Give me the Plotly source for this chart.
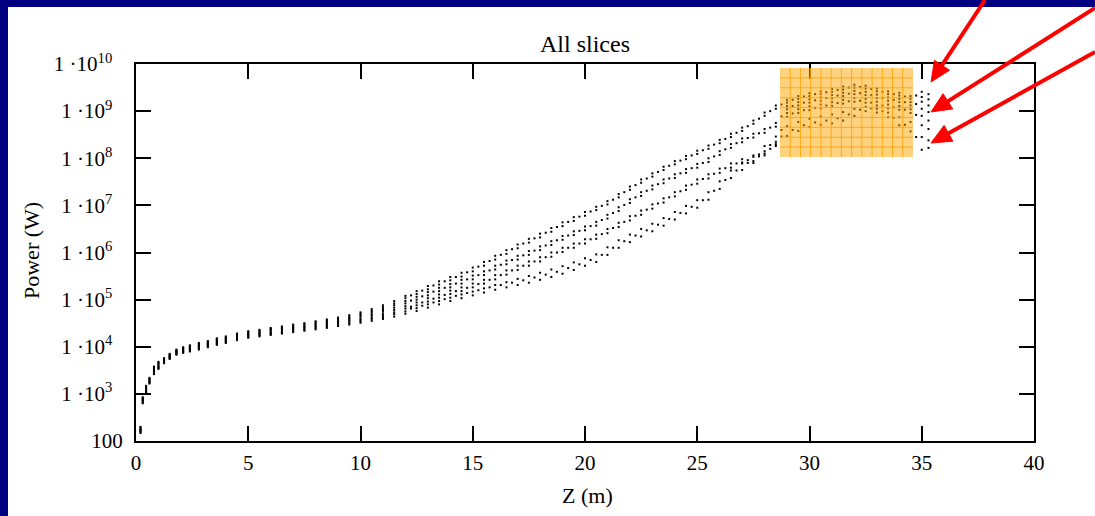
import numpy as np
import plotly.graph_objects as go

# z positions (m) at which every slice is sampled
z_m = [0.2, 0.3, 0.45, 0.6, 0.8, 1.0, 1.25, 1.5, 1.8, 2.1, 2.4, 2.8, 3.2, 3.6, 4.0, 4.5,
       5.0, 5.5, 6.0, 6.5, 7.0, 7.5, 8.0, 8.5, 9.0, 9.5, 10.0, 10.5, 11.0, 11.5, 12.0,
       12.5, 13.0, 13.5, 14.0, 14.5, 15.0, 15.5, 16.0, 16.5, 17.0, 17.5, 18.0, 18.5, 19.0,
       19.5, 20.0, 20.5, 21.0, 21.5, 22.0, 22.5, 23.0, 23.5, 24.0, 24.5, 25.0, 25.5, 26.0,
       26.5, 27.0, 27.5, 28.0, 28.5, 29.0, 29.5, 30.0, 30.5, 31.0, 31.5, 32.0, 32.5, 33.0,
       33.5, 34.0, 34.5, 35.0, 35.3]

# log10 of the slice power (W), eight slices ordered from highest to lowest
slice_1 = [2.30, 2.93, 3.17, 3.34, 3.58, 3.68, 3.76, 3.85, 3.94, 3.99, 4.03, 4.08, 4.12, 4.18, 4.22, 4.28,
           4.33, 4.36, 4.40, 4.43, 4.47, 4.50, 4.54, 4.58, 4.62, 4.67, 4.73, 4.80, 4.88, 4.97, 5.08,
           5.18, 5.29, 5.39, 5.48, 5.57, 5.68, 5.80, 5.93, 6.05, 6.17, 6.29, 6.40, 6.52, 6.64,
           6.75, 6.86, 6.97, 7.09, 7.24, 7.40, 7.55, 7.68, 7.82, 7.94, 8.05, 8.16, 8.27, 8.39,
           8.52, 8.65, 8.80, 8.97, 9.12, 9.24, 9.32, 9.38, 9.42, 9.47, 9.52, 9.56, 9.54, 9.48,
           9.42, 9.39, 9.32, 9.41, 9.36]
slice_2 = [2.28, 2.91, 3.15, 3.32, 3.56, 3.66, 3.74, 3.83, 3.92, 3.97, 4.01, 4.06, 4.10, 4.16, 4.20, 4.26,
           4.31, 4.34, 4.38, 4.41, 4.45, 4.48, 4.52, 4.55, 4.59, 4.64, 4.70, 4.76, 4.84, 4.92, 5.03,
           5.12, 5.22, 5.32, 5.41, 5.49, 5.60, 5.72, 5.85, 5.97, 6.09, 6.21, 6.32, 6.44, 6.56,
           6.67, 6.78, 6.90, 7.02, 7.17, 7.33, 7.48, 7.61, 7.75, 7.87, 7.98, 8.09, 8.20, 8.32,
           8.45, 8.58, 8.73, 8.90, 9.05, 9.18, 9.26, 9.32, 9.36, 9.41, 9.46, 9.50, 9.48, 9.42,
           9.36, 9.33, 9.26, 9.30, 9.25]
slice_3 = [2.26, 2.89, 3.13, 3.31, 3.53, 3.64, 3.73, 3.82, 3.91, 3.96, 3.99, 4.04, 4.08, 4.14, 4.18, 4.24,
           4.29, 4.32, 4.36, 4.39, 4.42, 4.45, 4.49, 4.53, 4.57, 4.61, 4.67, 4.73, 4.80, 4.88, 4.97,
           5.06, 5.16, 5.25, 5.33, 5.42, 5.51, 5.60, 5.72, 5.83, 5.93, 6.03, 6.13, 6.24, 6.35,
           6.45, 6.55, 6.65, 6.80, 6.96, 7.13, 7.28, 7.42, 7.55, 7.66, 7.77, 7.88, 8.00, 8.15,
           8.30, 8.42, 8.52, 8.62, 8.75, 9.11, 9.19, 9.25, 9.29, 9.34, 9.39, 9.43, 9.41, 9.35,
           9.29, 9.26, 9.19, 9.20, 9.12]
slice_4 = [2.24, 2.87, 3.11, 3.29, 3.51, 3.62, 3.71, 3.80, 3.89, 3.94, 3.97, 4.02, 4.06, 4.12, 4.16, 4.22,
           4.27, 4.30, 4.34, 4.37, 4.40, 4.43, 4.47, 4.50, 4.54, 4.58, 4.64, 4.69, 4.76, 4.83, 4.92,
           5.00, 5.09, 5.18, 5.26, 5.34, 5.43, 5.52, 5.64, 5.75, 5.85, 5.95, 6.05, 6.16, 6.27,
           6.37, 6.47, 6.57, 6.72, 6.88, 7.05, 7.20, 7.34, 7.47, 7.58, 7.69, 7.80, 7.92, 8.07,
           8.22, 8.34, 8.44, 8.54, 8.67, 9.04, 9.12, 9.18, 9.22, 9.27, 9.32, 9.36, 9.34, 9.28,
           9.22, 9.19, 9.12, 9.05, 8.98]
slice_5 = [2.23, 2.86, 3.08, 3.27, 3.49, 3.59, 3.70, 3.79, 3.88, 3.92, 3.96, 4.00, 4.05, 4.10, 4.14, 4.20,
           4.25, 4.28, 4.31, 4.34, 4.38, 4.41, 4.44, 4.48, 4.52, 4.56, 4.60, 4.66, 4.71, 4.78, 4.86,
           4.94, 5.03, 5.11, 5.19, 5.26, 5.34, 5.42, 5.52, 5.62, 5.72, 5.81, 5.90, 6.00, 6.10,
           6.19, 6.28, 6.38, 6.50, 6.63, 6.77, 6.89, 7.02, 7.15, 7.28, 7.42, 7.55, 7.66, 7.78,
           7.89, 7.98, 8.03, 8.15, 8.35, 8.96, 9.04, 9.10, 9.14, 9.19, 9.24, 9.28, 9.26, 9.20,
           9.14, 9.11, 9.04, 8.90, 8.80]
slice_6 = [2.21, 2.84, 3.06, 3.25, 3.47, 3.57, 3.68, 3.77, 3.86, 3.90, 3.94, 3.98, 4.03, 4.08, 4.12, 4.18,
           4.23, 4.26, 4.29, 4.32, 4.36, 4.39, 4.42, 4.45, 4.49, 4.53, 4.57, 4.62, 4.67, 4.73, 4.81,
           4.88, 4.96, 5.04, 5.12, 5.18, 5.26, 5.34, 5.43, 5.53, 5.63, 5.72, 5.81, 5.91, 6.01,
           6.10, 6.19, 6.29, 6.41, 6.54, 6.68, 6.80, 6.93, 7.06, 7.19, 7.33, 7.46, 7.57, 7.69,
           7.80, 7.89, 7.94, 8.06, 8.26, 8.88, 8.96, 9.02, 9.06, 9.11, 9.16, 9.20, 9.18, 9.12,
           9.06, 9.03, 8.96, 8.70, 8.62]
slice_7 = [2.19, 2.82, 3.04, 3.24, 3.44, 3.55, 3.67, 3.76, 3.85, 3.89, 3.92, 3.96, 4.01, 4.06, 4.10, 4.16,
           4.21, 4.24, 4.27, 4.30, 4.33, 4.36, 4.39, 4.43, 4.47, 4.50, 4.54, 4.59, 4.63, 4.69, 4.75,
           4.82, 4.90, 4.97, 5.04, 5.11, 5.17, 5.24, 5.31, 5.37, 5.44, 5.50, 5.57, 5.64, 5.71,
           5.79, 5.88, 5.96, 6.11, 6.26, 6.38, 6.50, 6.61, 6.73, 6.86, 6.99, 7.11, 7.28, 7.51,
           7.74, 7.91, 8.06, 8.26, 8.46, 8.68, 8.77, 8.84, 8.89, 8.93, 8.98, 9.05, 9.09, 9.05,
           8.97, 8.87, 8.77, 8.45, 8.38]
slice_8 = [2.17, 2.80, 3.02, 3.22, 3.42, 3.53, 3.65, 3.74, 3.83, 3.87, 3.90, 3.94, 3.99, 4.04, 4.08, 4.14,
           4.19, 4.22, 4.25, 4.28, 4.31, 4.34, 4.37, 4.40, 4.44, 4.47, 4.51, 4.55, 4.59, 4.64, 4.70,
           4.76, 4.83, 4.90, 4.97, 5.03, 5.09, 5.15, 5.21, 5.26, 5.31, 5.36, 5.42, 5.48, 5.55,
           5.63, 5.72, 5.80, 5.95, 6.10, 6.22, 6.34, 6.45, 6.57, 6.70, 6.83, 6.95, 7.12, 7.35,
           7.58, 7.75, 7.90, 8.10, 8.30, 8.47, 8.58, 8.66, 8.71, 8.74, 8.80, 8.90, 9.00, 8.97,
           8.87, 8.70, 8.57, 8.18, 8.22]

# further slices, sampled on the staggered z positions of the wide part of the bunch
z_m_mid = [12.25, 12.75, 13.25, 13.75, 14.25, 14.75, 15.25, 15.75, 16.25, 16.75, 17.25, 17.75,
           18.25, 18.75, 19.25, 19.75, 20.25, 20.75, 21.25, 21.75, 22.25, 22.75, 23.25, 23.75,
           24.25, 24.75, 25.25, 25.75, 26.25, 26.75, 27.25, 27.75, 28.25, 28.75, 29.25, 29.75,
           30.25, 30.75, 31.25, 31.75, 32.25, 32.75, 33.25, 33.75, 34.25, 34.75]
slice_9 = [5.09, 5.19, 5.30, 5.39, 5.48, 5.58, 5.70, 5.82, 5.95, 6.07, 6.19, 6.30,
           6.42, 6.54, 6.65, 6.76, 6.87, 6.99, 7.12, 7.28, 7.43, 7.57, 7.71, 7.84,
           7.95, 8.06, 8.17, 8.29, 8.41, 8.54, 8.68, 8.84, 9.00, 9.14, 9.24, 9.31,
           9.36, 9.40, 9.45, 9.50, 9.51, 9.47, 9.41, 9.36, 9.31, 9.33]
slice_10 = [4.98, 5.07, 5.17, 5.25, 5.34, 5.43, 5.52, 5.62, 5.74, 5.84, 5.94, 6.04,
            6.15, 6.26, 6.36, 6.46, 6.56, 6.69, 6.84, 7.01, 7.17, 7.31, 7.45, 7.57,
            7.68, 7.79, 7.90, 8.04, 8.19, 8.32, 8.43, 8.53, 8.65, 8.89, 9.11, 9.18,
            9.23, 9.28, 9.33, 9.37, 9.38, 9.34, 9.28, 9.24, 9.19, 9.15]
slice_11 = [4.85, 4.94, 5.02, 5.10, 5.18, 5.25, 5.33, 5.42, 5.52, 5.62, 5.72, 5.81,
            5.90, 6.00, 6.10, 6.19, 6.28, 6.39, 6.52, 6.65, 6.78, 6.91, 7.04, 7.17,
            7.30, 7.44, 7.56, 7.67, 7.79, 7.89, 7.96, 8.04, 8.20, 8.60, 8.95, 9.02,
            9.07, 9.12, 9.17, 9.21, 9.22, 9.18, 9.12, 9.08, 9.03, 8.92]
slice_12 = [4.81, 4.87, 4.94, 5.01, 5.08, 5.14, 5.20, 5.26, 5.31, 5.36, 5.41, 5.47,
            5.53, 5.59, 5.67, 5.75, 5.84, 5.95, 6.10, 6.24, 6.36, 6.47, 6.59, 6.71,
            6.84, 6.97, 7.11, 7.31, 7.54, 7.74, 7.90, 8.08, 8.28, 8.46, 8.60, 8.70,
            8.76, 8.80, 8.85, 8.93, 9.03, 9.06, 9.00, 8.86, 8.71, 8.45]

series = [(z_m, s) for s in (slice_1, slice_2, slice_3, slice_4,
                              slice_5, slice_6, slice_7, slice_8)]
series += [(z_m_mid, s) for s in (slice_9, slice_10, slice_11, slice_12)]

x_tick_vals = [0, 5, 10, 15, 20, 25, 30, 35, 40]
y_tick_exps = [2, 3, 4, 5, 6, 7, 8, 9, 10]
y_tick_text = ["100"] + ["1 ·10<sup>%d</sup>\u00a0\u00a0" % e for e in y_tick_exps[1:]]

FONT = "Liberation Serif"
NAVY = "#000080"
RED = "#FF0000"

# plot-area geometry in pixels, used to place paper-referenced decorations
W, H = 1095, 516
L, R, T, B = 136, 1034, 64, 441


def px(x):
    return (x - L) / (R - L)


def py(y):
    return (B - y) / (B - T)


fig = go.Figure()
for zs, values in series:
    fig.add_trace(go.Scatter(
        x=zs, y=np.power(10.0, values), mode="markers",
        marker=dict(symbol="square", size=2, color="black", line=dict(width=0)),
        showlegend=False, hoverinfo="skip"))

axis_common = dict(showline=True, linecolor="black", linewidth=2, mirror="ticks",
                   ticks="inside", ticklen=15, tickwidth=2, tickcolor="black",
                   showgrid=False, zeroline=False,
                   tickfont=dict(family=FONT, size=21, color="black"))

fig.update_xaxes(range=[0, 40], tickvals=x_tick_vals, ticklabelstandoff=2, **axis_common)
fig.update_yaxes(type="log", range=[2, 10], tickvals=[10.0 ** e for e in y_tick_exps],
                 ticktext=y_tick_text, ticklabelstandoff=7, **axis_common)

shapes = []
# slide frame bands (left and top)
shapes.append(dict(type="rect", xref="paper", yref="paper", layer="above",
                   x0=px(0), x1=px(8), y0=py(H), y1=py(0),
                   fillcolor=NAVY, line=dict(width=0)))
shapes.append(dict(type="rect", xref="paper", yref="paper", layer="above",
                   x0=px(0), x1=px(W), y0=py(7), y1=py(0),
                   fillcolor=NAVY, line=dict(width=0)))

# highlighted window with a graph-paper grid
bx0, bx1, by0, by1 = 780, 913, 68, 157
shapes.append(dict(type="rect", xref="paper", yref="paper", layer="above",
                   x0=px(bx0), x1=px(bx1), y0=py(by1), y1=py(by0),
                   fillcolor="rgba(255,165,0,0.5)", line=dict(width=0)))
n_cols, n_rows = 13, 9
for i in range(1, n_cols):
    gx = bx0 + (bx1 - bx0) * i / n_cols
    shapes.append(dict(type="line", xref="paper", yref="paper", layer="above",
                       x0=px(gx), x1=px(gx), y0=py(by1), y1=py(by0),
                       line=dict(color="rgba(255,165,0,0.85)", width=1)))
for j in range(1, n_rows):
    gy = by0 + (by1 - by0) * j / n_rows
    shapes.append(dict(type="line", xref="paper", yref="paper", layer="above",
                       x0=px(bx0), x1=px(bx1), y0=py(gy), y1=py(gy),
                       line=dict(color="rgba(255,165,0,0.85)", width=1)))

# red pointers (tail -> tip, pixels) aimed at the last sampled column
pointers = [((985, 0), (931, 82)), ((1095, 8), (931, 112)), ((1095, 52), (931, 143))]
head_len, head_half = 20.0, 9.0
for (tx, ty), (hx, hy) in pointers:
    d = np.array([hx - tx, hy - ty], dtype=float)
    u = d / np.hypot(*d)
    n = np.array([-u[1], u[0]])
    base = np.array([hx, hy]) - u * head_len
    shapes.append(dict(type="line", xref="paper", yref="paper", layer="above",
                       x0=px(tx), y0=py(ty), x1=px(base[0] + u[0] * 2), y1=py(base[1] + u[1] * 2),
                       line=dict(color=RED, width=4)))
    c1 = base + n * head_half
    c2 = base - n * head_half
    path = "M %f %f L %f %f L %f %f Z" % (px(hx), py(hy), px(c1[0]), py(c1[1]), px(c2[0]), py(c2[1]))
    shapes.append(dict(type="path", xref="paper", yref="paper", layer="above", path=path,
                       fillcolor=RED, line=dict(color=RED, width=1)))

annotations = [
    dict(text="All slices", xref="paper", yref="paper", x=px(585), y=py(44),
         xanchor="center", yanchor="middle", showarrow=False,
         font=dict(family=FONT, size=24, color="black")),
    dict(text="Z (m)", xref="paper", yref="paper", x=px(587), y=py(495),
         xanchor="center", yanchor="middle", showarrow=False,
         font=dict(family=FONT, size=22, color="black")),
    dict(text="Power (W)", xref="paper", yref="paper", x=px(31), y=py(251),
         xanchor="center", yanchor="middle", showarrow=False, textangle=-90,
         font=dict(family=FONT, size=22, color="black")),
]

fig.update_layout(width=W, height=H, margin=dict(l=L, r=W - R, t=T, b=H - B),
                  paper_bgcolor="white", plot_bgcolor="white",
                  font=dict(family=FONT, size=22, color="black"),
                  shapes=shapes, annotations=annotations)

fig.write_html("out.html")
